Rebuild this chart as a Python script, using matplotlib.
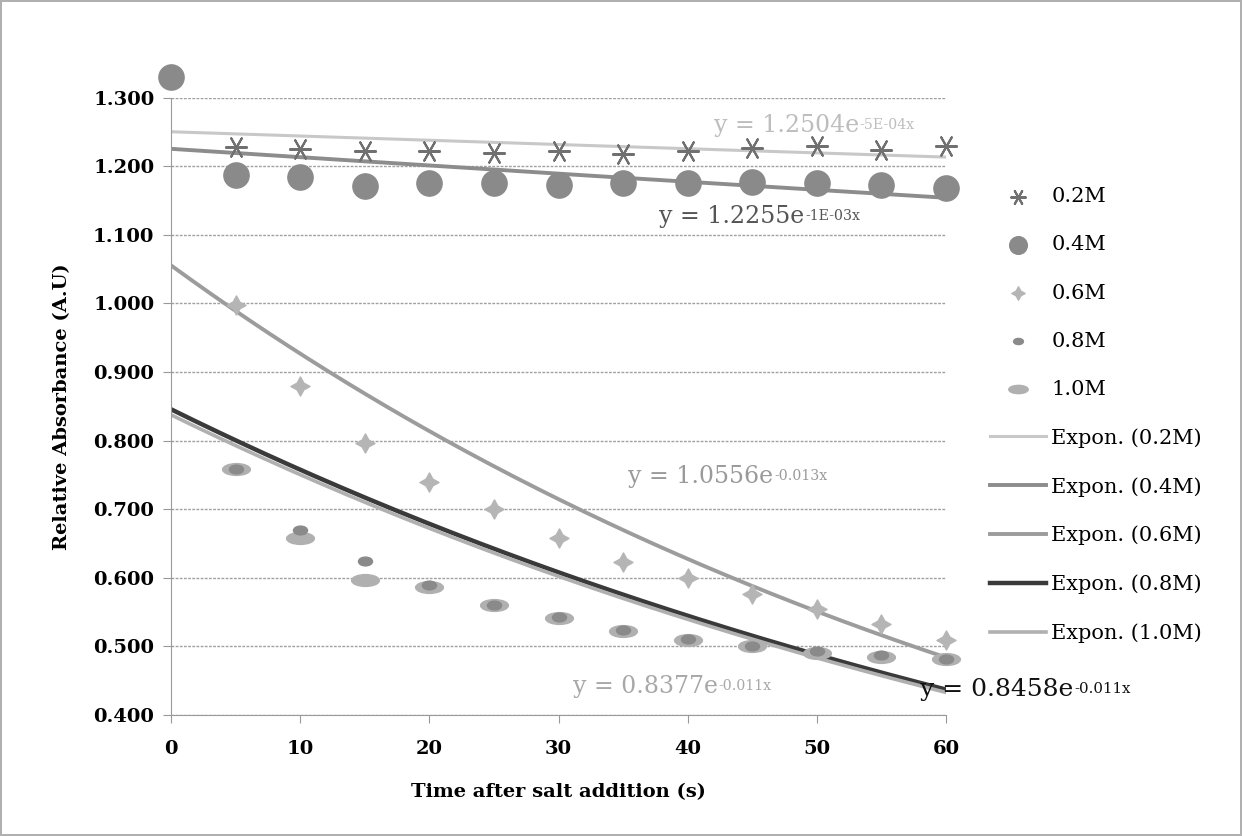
import numpy as np
import matplotlib.pyplot as plt
from matplotlib.markers import MarkerStyle
from matplotlib.transforms import Affine2D

plt.rcParams['font.family'] = ['DejaVu Serif']

time_a = [0, 5, 10, 15, 20, 25, 30, 35, 40, 45, 50, 55, 60]
time_b = [5, 10, 15, 20, 25, 30, 35, 40, 45, 50, 55, 60]

abs_02 = [1.330, 1.228, 1.225, 1.222, 1.222, 1.220, 1.222, 1.218, 1.222, 1.227, 1.229, 1.224, 1.229]
abs_04 = [1.330, 1.188, 1.185, 1.172, 1.175, 1.175, 1.173, 1.175, 1.175, 1.177, 1.175, 1.173, 1.168]
abs_06 = [0.998, 0.880, 0.797, 0.740, 0.700, 0.658, 0.623, 0.600, 0.577, 0.555, 0.532, 0.510]
abs_08 = [0.759, 0.670, 0.624, 0.590, 0.561, 0.543, 0.524, 0.511, 0.501, 0.493, 0.487, 0.482]
abs_10 = [0.759, 0.658, 0.597, 0.586, 0.560, 0.542, 0.522, 0.510, 0.500, 0.491, 0.484, 0.481]

# trendline parameters y = a * exp(b x)
fit_a = [1.2504, 1.2255, 1.0556, 0.8458, 0.8377]
fit_b = [-5e-4, -1e-3, -0.013, -0.011, -0.011]
fit_base = ['y = 1.2504e', 'y = 1.2255e', 'y = 1.0556e', 'y = 0.8458e', 'y = 0.8377e']
fit_sup = ['-5E-04x', '-1E-03x', '-0.013x', '-0.011x', '-0.011x']
labels = ['0.2M', '0.4M', '0.6M', '0.8M', '1.0M']

fig = plt.figure(figsize=(12.42, 8.36), dpi=100)
fig.patch.set_edgecolor('#b0b0b0')
fig.patch.set_linewidth(1.5)
ax = fig.add_axes([0.1377, 0.1447, 0.624, 0.7384])

fit_colors = ['#c8c8c8', '#8c8c8c', '#9c9c9c', '#3a3a3a', '#b0b0b0']
fit_widths = [2.2, 2.8, 2.8, 3.2, 2.6]
x_fit = np.linspace(0, 60, 200)
fit_lines = []
for a, b, c, w in zip(fit_a, fit_b, fit_colors, fit_widths):
    ln, = ax.plot(x_fit, a * np.exp(b * x_fit), color=c, lw=w, zorder=2)
    fit_lines.append(ln)

oval_big = MarkerStyle('o', transform=Affine2D().scale(2.0, 0.85))
oval_small = MarkerStyle('o', transform=Affine2D().scale(1.6, 1.0))

m1 = ax.scatter(time_a, abs_02, marker=(6, 2, 90), s=230, color='#707070',
                linewidths=1.5, zorder=3, clip_on=False)
m2 = ax.scatter(time_a, abs_04, marker='o', s=330, color='#8a8a8a',
                zorder=4, clip_on=False)
m3 = ax.scatter(time_b, abs_06, marker=(4, 1, 0), s=190, color='#b5b5b5',
                zorder=3, clip_on=False)
m5 = ax.scatter(time_b, abs_10, marker=oval_big, s=100, color='#b0b0b0',
                zorder=3, clip_on=False)
m4 = ax.scatter(time_b, abs_08, marker=oval_small, s=40, color='#8a8a8a',
                zorder=3, clip_on=False)

ax.set_xlim(0, 60)
ax.set_ylim(0.4, 1.3)
ax.set_xticks(range(0, 61, 10))
yt = np.arange(0.4, 1.301, 0.1)
ax.set_yticks(yt)
ax.set_yticklabels(['%.3f' % v for v in yt])
for t in ax.get_xticklabels() + ax.get_yticklabels():
    t.set_fontweight('bold')
    t.set_fontsize(14)
ax.tick_params(axis='both', colors='#999999', labelcolor='black', length=6)
ax.tick_params(axis='y', pad=6)
ax.tick_params(axis='x', pad=12)
ax.grid(axis='y', color='#a0a0a0', lw=1.0, ls=(0, (2, 1)))
ax.set_axisbelow(True)
for s in ['top', 'right']:
    ax.spines[s].set_visible(False)
for s in ['left', 'bottom']:
    ax.spines[s].set_color('#9a9a9a')
    ax.spines[s].set_linestyle((0, (2, 1)))

ax.set_ylabel('Relative Absorbance (A.U)', fontsize=14, fontweight='bold', labelpad=16)
ax.set_xlabel('Time after salt addition (s)', fontsize=14, fontweight='bold', labelpad=18)

# trendline equations
eq_pos = [(42.0, 1.243), (37.8, 1.110), (35.4, 0.731), (58.0, 0.421), (31.1, 0.425)]
eq_colors = ['#bdbdbd', '#555555', '#9a9a9a', '#111111', '#a8a8a8']
eq_sizes = [17, 17, 17, 18, 17]
for (xe, ye), base, sup, c, fs in zip(eq_pos, fit_base, fit_sup, eq_colors, eq_sizes):
    bt = ax.text(xe, ye, base, color=c, fontsize=fs, ha='left', va='bottom',
                 clip_on=False, zorder=6)
    ax.annotate(sup, xy=(1, 1), xycoords=bt, xytext=(0.5, -3),
                textcoords='offset points', color=c, fontsize=fs * 0.6,
                ha='left', va='top', zorder=6, annotation_clip=False)

handles = [m1, m2, m3, m4, m5] + fit_lines
names = labels + ['Expon. (%s)' % l for l in labels]
fig.legend(handles=handles, labels=names,
           loc='upper left', bbox_to_anchor=(0.797, 0.776),
           frameon=False, fontsize=15, handlelength=2.7,
           handletextpad=0.25, labelspacing=1.4, markerscale=0.7,
           borderaxespad=0, borderpad=0)

fig.savefig('out.png', dpi=100)
